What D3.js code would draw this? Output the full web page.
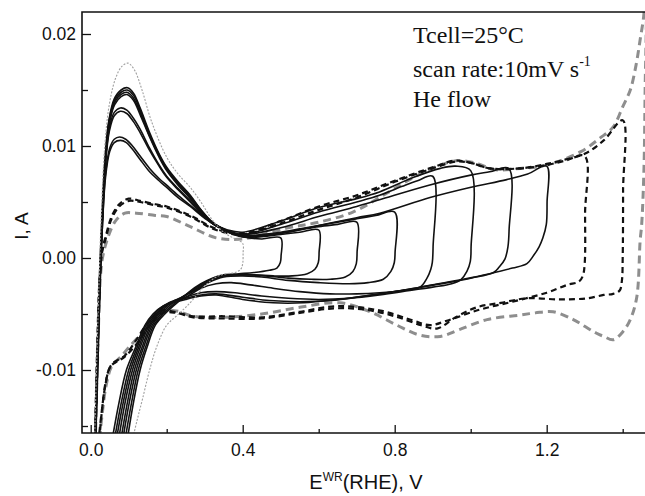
<!DOCTYPE html>
<html><head><meta charset="utf-8">
<script src="https://cdn.jsdelivr.net/npm/d3@7"></script>
<style>body{margin:0;background:#fff}svg{display:block}</style>
</head><body>
<script>
// ---- axis ticks ----
const xTicks=[0,0.4,0.8,1.2];
const xTickLabels=["0.0","0.4","0.8","1.2"];
const xMinorTicks=[0.2,0.6,1.0,1.4];
const yTicks=[-0.01,0,0.01,0.02];
const yTickLabels=["-0.01","0.00","0.01","0.02"];
const yMinorTicks=[-0.015,-0.005,0.005,0.015];
const xDomain=[-0.0229,1.4587];
const yDomain=[-0.015625,0.021964];

// ---- CV loops [E (V), I (A)], upper potential limits 0.4 ... 1.45 V ----
const cv04=[[0.010,-0.0165],[0.016,-0.0090],[0.022,-0.0020],[0.028,0.0040],[0.036,0.0095],[0.048,0.0135],[0.065,0.0160],[0.082,0.0171],[0.098,0.0174],[0.115,0.0168],[0.135,0.0150],[0.160,0.0122],[0.200,0.0090],[0.230,0.0075],[0.262,0.0063],[0.290,0.0050],[0.320,0.0034],[0.350,0.0023],[0.380,0.0017],[0.400,0.0013],[0.401,0.0004],[0.400,-0.0005],[0.395,-0.0010],[0.380,-0.0013],[0.358,-0.0014],[0.330,-0.0017],[0.300,-0.0025],[0.275,-0.0035],[0.250,-0.0044],[0.225,-0.0052],[0.200,-0.0060],[0.175,-0.0078],[0.155,-0.0100],[0.137,-0.0125],[0.122,-0.0145],[0.108,-0.0165]];
const cv05=[[0.011,-0.0165],[0.017,-0.0090],[0.023,-0.0020],[0.029,0.0030],[0.037,0.0085],[0.048,0.0123],[0.062,0.0142],[0.080,0.0150],[0.097,0.0152],[0.113,0.0147],[0.130,0.0134],[0.155,0.0112],[0.180,0.0093],[0.200,0.0081],[0.230,0.0068],[0.262,0.0056],[0.290,0.0043],[0.320,0.0032],[0.360,0.0024],[0.400,0.0019],[0.450,0.0017],[0.500,0.0018],[0.501,0.0002],[0.499,-0.0004],[0.490,-0.0009],[0.470,-0.0011],[0.430,-0.0013],[0.390,-0.0014],[0.350,-0.0015],[0.320,-0.0018],[0.290,-0.0023],[0.260,-0.0030],[0.227,-0.0040],[0.195,-0.0050],[0.170,-0.0060],[0.148,-0.0080],[0.130,-0.0100],[0.112,-0.0130],[0.095,-0.0165]];
const cv06=[[0.011,-0.0165],[0.017,-0.0090],[0.023,-0.0020],[0.029,0.0030],[0.037,0.0084],[0.048,0.0122],[0.062,0.0140],[0.080,0.0148],[0.096,0.0150],[0.113,0.0145],[0.130,0.0132],[0.155,0.0110],[0.180,0.0092],[0.200,0.0080],[0.230,0.0067],[0.262,0.0055],[0.290,0.0043],[0.320,0.0032],[0.360,0.0024],[0.400,0.0019],[0.450,0.0019],[0.500,0.0021],[0.550,0.0023],[0.600,0.0025],[0.601,0.0005],[0.599,-0.0004],[0.590,-0.0010],[0.570,-0.0014],[0.530,-0.0016],[0.480,-0.0016],[0.430,-0.0015],[0.380,-0.0015],[0.340,-0.0016],[0.310,-0.0020],[0.280,-0.0026],[0.250,-0.0033],[0.222,-0.0040],[0.190,-0.0050],[0.166,-0.0060],[0.144,-0.0080],[0.125,-0.0100],[0.107,-0.0130],[0.089,-0.0165]];
const cv07=[[0.012,-0.0165],[0.018,-0.0090],[0.024,-0.0020],[0.030,0.0030],[0.038,0.0084],[0.049,0.0121],[0.063,0.0139],[0.080,0.0146],[0.095,0.0148],[0.112,0.0143],[0.130,0.0130],[0.155,0.0109],[0.180,0.0091],[0.200,0.0079],[0.230,0.0066],[0.262,0.0054],[0.290,0.0042],[0.320,0.0031],[0.360,0.0024],[0.400,0.0020],[0.450,0.0020],[0.500,0.0022],[0.550,0.0025],[0.600,0.0028],[0.650,0.0030],[0.700,0.0032],[0.701,0.0005],[0.699,-0.0005],[0.690,-0.0012],[0.670,-0.0017],[0.630,-0.0019],[0.580,-0.0019],[0.520,-0.0018],[0.460,-0.0016],[0.400,-0.0015],[0.350,-0.0016],[0.310,-0.0021],[0.280,-0.0027],[0.245,-0.0034],[0.216,-0.0040],[0.185,-0.0050],[0.162,-0.0060],[0.139,-0.0080],[0.120,-0.0100],[0.101,-0.0130],[0.083,-0.0165]];
const cv08=[[0.012,-0.0165],[0.018,-0.0090],[0.024,-0.0020],[0.030,0.0030],[0.038,0.0083],[0.049,0.0120],[0.063,0.0137],[0.080,0.0144],[0.095,0.0146],[0.112,0.0141],[0.130,0.0128],[0.155,0.0108],[0.180,0.0090],[0.200,0.0078],[0.230,0.0065],[0.262,0.0053],[0.290,0.0041],[0.320,0.0031],[0.360,0.0024],[0.400,0.0020],[0.450,0.0021],[0.500,0.0023],[0.550,0.0026],[0.600,0.0029],[0.650,0.0032],[0.700,0.0035],[0.750,0.0038],[0.800,0.0041],[0.801,0.0005],[0.799,-0.0004],[0.790,-0.0012],[0.770,-0.0019],[0.730,-0.0022],[0.680,-0.0023],[0.600,-0.0022],[0.520,-0.0020],[0.450,-0.0017],[0.400,-0.0016],[0.350,-0.0017],[0.310,-0.0022],[0.280,-0.0028],[0.240,-0.0035],[0.211,-0.0040],[0.180,-0.0050],[0.158,-0.0060],[0.135,-0.0080],[0.115,-0.0100],[0.096,-0.0130],[0.078,-0.0165]];
const cv09=[[0.012,-0.0165],[0.018,-0.0090],[0.024,-0.0020],[0.030,0.0030],[0.038,0.0082],[0.049,0.0116],[0.062,0.0130],[0.078,0.0134],[0.095,0.0132],[0.112,0.0125],[0.130,0.0115],[0.155,0.0098],[0.180,0.0083],[0.200,0.0073],[0.230,0.0062],[0.262,0.0051],[0.290,0.0040],[0.320,0.0031],[0.360,0.0024],[0.400,0.0021],[0.500,0.0030],[0.600,0.0041],[0.700,0.0050],[0.760,0.0056],[0.820,0.0064],[0.860,0.0069],[0.900,0.0073],[0.901,0.0010],[0.899,-0.0004],[0.895,-0.0010],[0.885,-0.0018],[0.867,-0.0026],[0.820,-0.0029],[0.760,-0.0031],[0.700,-0.0032],[0.630,-0.0032],[0.550,-0.0030],[0.480,-0.0027],[0.420,-0.0024],[0.370,-0.0022],[0.330,-0.0023],[0.290,-0.0027],[0.250,-0.0035],[0.206,-0.0040],[0.176,-0.0050],[0.154,-0.0060],[0.130,-0.0080],[0.110,-0.0100],[0.090,-0.0130],[0.072,-0.0165]];
const cv10=[[0.012,-0.0165],[0.018,-0.0090],[0.024,-0.0020],[0.030,0.0030],[0.038,0.0080],[0.049,0.0113],[0.062,0.0127],[0.078,0.0131],[0.095,0.0129],[0.112,0.0122],[0.130,0.0112],[0.155,0.0096],[0.180,0.0082],[0.200,0.0072],[0.230,0.0061],[0.262,0.0050],[0.290,0.0040],[0.320,0.0031],[0.360,0.0025],[0.400,0.0023],[0.500,0.0033],[0.600,0.0045],[0.700,0.0053],[0.760,0.0059],[0.850,0.0072],[0.920,0.0080],[0.960,0.0082],[1.000,0.0078],[1.001,0.0010],[0.999,-0.0003],[0.990,-0.0012],[0.975,-0.0019],[0.950,-0.0023],[0.900,-0.0026],[0.840,-0.0029],[0.760,-0.0033],[0.680,-0.0036],[0.600,-0.0037],[0.520,-0.0036],[0.450,-0.0034],[0.380,-0.0031],[0.330,-0.0030],[0.290,-0.0031],[0.250,-0.0035],[0.200,-0.0042],[0.172,-0.0050],[0.150,-0.0060],[0.126,-0.0080],[0.105,-0.0100],[0.085,-0.0130],[0.066,-0.0165]];
const cv11=[[0.013,-0.0165],[0.019,-0.0090],[0.025,-0.0020],[0.031,0.0030],[0.039,0.0075],[0.050,0.0098],[0.062,0.0106],[0.076,0.0108],[0.092,0.0106],[0.110,0.0100],[0.130,0.0091],[0.155,0.0080],[0.180,0.0071],[0.200,0.0065],[0.230,0.0056],[0.262,0.0047],[0.306,0.0035],[0.350,0.0026],[0.400,0.0021],[0.500,0.0027],[0.600,0.0037],[0.700,0.0046],[0.760,0.0052],[0.890,0.0065],[1.000,0.0074],[1.050,0.0077],[1.100,0.0080],[1.101,0.0025],[1.098,0.0010],[1.090,-0.0001],[1.075,-0.0008],[1.060,-0.0013],[1.000,-0.0018],[0.940,-0.0022],[0.870,-0.0026],[0.800,-0.0030],[0.720,-0.0034],[0.630,-0.0038],[0.550,-0.0039],[0.470,-0.0038],[0.400,-0.0035],[0.330,-0.0032],[0.290,-0.0033],[0.250,-0.0036],[0.195,-0.0042],[0.168,-0.0050],[0.146,-0.0060],[0.122,-0.0080],[0.100,-0.0100],[0.080,-0.0130],[0.061,-0.0165]];
const cv12=[[0.013,-0.0165],[0.019,-0.0090],[0.025,-0.0020],[0.031,0.0030],[0.039,0.0072],[0.050,0.0095],[0.062,0.0103],[0.078,0.0105],[0.094,0.0103],[0.110,0.0097],[0.130,0.0088],[0.155,0.0077],[0.180,0.0069],[0.200,0.0063],[0.230,0.0054],[0.262,0.0046],[0.306,0.0034],[0.350,0.0025],[0.400,0.0019],[0.500,0.0022],[0.600,0.0029],[0.700,0.0036],[0.761,0.0040],[0.893,0.0054],[0.998,0.0063],[1.095,0.0070],[1.150,0.0075],[1.200,0.0082],[1.201,0.0050],[1.199,0.0030],[1.190,0.0018],[1.180,0.0010],[1.165,0.0002],[1.148,-0.0005],[1.110,-0.0009],[1.050,-0.0014],[0.980,-0.0019],[0.900,-0.0024],[0.820,-0.0029],[0.740,-0.0033],[0.650,-0.0037],[0.560,-0.0040],[0.480,-0.0040],[0.400,-0.0037],[0.330,-0.0033],[0.290,-0.0034],[0.250,-0.0037],[0.190,-0.0043],[0.164,-0.0050],[0.143,-0.0060],[0.118,-0.0080],[0.094,-0.0100],[0.074,-0.0130],[0.055,-0.0165]];
const cv13=[[0.012,-0.0165],[0.018,-0.0080],[0.024,-0.0020],[0.030,0.0005],[0.040,0.0018],[0.055,0.0035],[0.075,0.0046],[0.100,0.0051],[0.130,0.0050],[0.170,0.0047],[0.200,0.0045],[0.262,0.0037],[0.330,0.0025],[0.400,0.0021],[0.500,0.0031],[0.600,0.0043],[0.700,0.0054],[0.800,0.0068],[0.900,0.0080],[0.960,0.0086],[1.000,0.0085],[1.050,0.0080],[1.130,0.0080],[1.200,0.0083],[1.250,0.0087],[1.300,0.0091],[1.301,0.0040],[1.300,-0.0005],[1.295,-0.0016],[1.285,-0.0021],[1.254,-0.0024],[1.200,-0.0031],[1.110,-0.0039],[1.025,-0.0046],[0.937,-0.0056],[0.893,-0.0060],[0.850,-0.0056],[0.762,-0.0047],[0.650,-0.0043],[0.550,-0.0048],[0.450,-0.0053],[0.350,-0.0052],[0.270,-0.0052],[0.220,-0.0048],[0.185,-0.0047],[0.150,-0.0058],[0.120,-0.0073],[0.090,-0.0087],[0.055,-0.0095],[0.040,-0.0110],[0.030,-0.0135],[0.022,-0.0165]];
const cv14=[[0.011,-0.0165],[0.017,-0.0080],[0.023,-0.0020],[0.029,0.0005],[0.040,0.0020],[0.055,0.0037],[0.075,0.0048],[0.100,0.0053],[0.130,0.0051],[0.170,0.0048],[0.200,0.0046],[0.262,0.0038],[0.330,0.0026],[0.400,0.0022],[0.500,0.0033],[0.600,0.0046],[0.700,0.0056],[0.800,0.0069],[0.900,0.0081],[0.960,0.0087],[1.000,0.0085],[1.050,0.0080],[1.130,0.0080],[1.200,0.0084],[1.250,0.0088],[1.300,0.0093],[1.350,0.0105],[1.400,0.0123],[1.401,0.0060],[1.400,0.0000],[1.398,-0.0020],[1.392,-0.0029],[1.375,-0.0032],[1.350,-0.0033],[1.306,-0.0036],[1.235,-0.0037],[1.148,-0.0036],[1.080,-0.0040],[1.016,-0.0044],[0.960,-0.0053],[0.911,-0.0063],[0.870,-0.0060],[0.800,-0.0052],[0.720,-0.0046],[0.640,-0.0045],[0.550,-0.0049],[0.450,-0.0054],[0.350,-0.0054],[0.270,-0.0053],[0.225,-0.0049],[0.190,-0.0049],[0.155,-0.0060],[0.125,-0.0075],[0.090,-0.0088],[0.052,-0.0097],[0.038,-0.0115],[0.028,-0.0140],[0.020,-0.0165]];
const cv145=[[0.012,-0.0165],[0.019,-0.0080],[0.025,-0.0020],[0.031,0.0000],[0.045,0.0018],[0.065,0.0033],[0.090,0.0040],[0.120,0.0040],[0.170,0.0038],[0.200,0.0037],[0.262,0.0028],[0.330,0.0018],[0.400,0.0017],[0.520,0.0027],[0.600,0.0032],[0.690,0.0041],[0.780,0.0058],[0.850,0.0072],[0.920,0.0083],[0.970,0.0087],[1.020,0.0084],[1.060,0.0079],[1.130,0.0080],[1.200,0.0083],[1.290,0.0095],[1.340,0.0107],[1.375,0.0117],[1.400,0.0135],[1.420,0.0150],[1.435,0.0172],[1.446,0.0195],[1.455,0.0215],[1.460,0.0235],[1.462,0.0230],[1.459,0.0150],[1.456,0.0080],[1.450,0.0030],[1.446,0.0016],[1.437,-0.0035],[1.420,-0.0055],[1.400,-0.0066],[1.375,-0.0073],[1.350,-0.0070],[1.330,-0.0067],[1.300,-0.0061],[1.270,-0.0055],[1.217,-0.0048],[1.170,-0.0049],[1.130,-0.0051],[1.043,-0.0055],[0.970,-0.0064],[0.920,-0.0070],[0.867,-0.0069],[0.806,-0.0060],[0.735,-0.0048],[0.656,-0.0040],[0.550,-0.0044],[0.450,-0.0050],[0.350,-0.0053],[0.270,-0.0052],[0.220,-0.0047],[0.180,-0.0050],[0.140,-0.0065],[0.100,-0.0080],[0.080,-0.0088],[0.055,-0.0097],[0.040,-0.0115],[0.030,-0.0140],[0.022,-0.0165]];

const annotationLines=["Tcell=25°C","scan rate:10mV s","He flow"];

// ---- layout / styles ----
const W=645,H=496, L=82, T=12, R=645, B=433;
const styleGray={stroke:"#8e8e8e",width:3,dash:"8,5"};
const styleDash={stroke:"#111",width:2.2,dash:"6,4"};
const styleSolid={stroke:"#111",width:1.6,dash:null};
const styleThin={stroke:"#a0a0a0",width:1.1,dash:"2,1.5"};
const series=[
  {d:cv145,s:styleGray},{d:cv14,s:styleDash},{d:cv13,s:styleDash},
  {d:cv05,s:styleSolid},{d:cv06,s:styleSolid},{d:cv07,s:styleSolid},{d:cv08,s:styleSolid},
  {d:cv09,s:styleSolid},{d:cv10,s:styleSolid},{d:cv11,s:styleSolid},{d:cv12,s:styleSolid},
  {d:cv04,s:styleThin}
];

const svg=d3.select("body").append("svg").attr("width",W).attr("height",H);
const x=d3.scaleLinear().domain(xDomain).range([L,R]);
const y=d3.scaleLinear().domain(yDomain).range([B,T]);

svg.append("clipPath").attr("id","clip").append("rect").attr("x",L).attr("y",T).attr("width",R-L).attr("height",B-T);

const line=d3.line().x(d=>x(d[0])).y(d=>y(d[1])).curve(d3.curveCatmullRom.alpha(0.5));
const g=svg.append("g").attr("clip-path","url(#clip)");
series.forEach(o=>{
  g.append("path").attr("d",line(o.d)).attr("fill","none")
   .attr("stroke",o.s.stroke).attr("stroke-width",o.s.width)
   .attr("stroke-dasharray",o.s.dash).attr("stroke-linejoin","round");
});

// axes
const fontSans="'Liberation Sans', Arial, sans-serif";
const yAxis=d3.axisLeft(y).tickValues(yTicks).tickFormat((d,i)=>yTickLabels[i]).tickSizeInner(-9).tickSizeOuter(0).tickPadding(6);
const yMinor=d3.axisLeft(y).tickValues(yMinorTicks).tickFormat("").tickSizeInner(-6).tickSizeOuter(0);
const xAxis=d3.axisBottom(x).tickValues(xTicks).tickFormat((d,i)=>xTickLabels[i]).tickSizeInner(-8).tickSizeOuter(0).tickPadding(11);
const xMinor=d3.axisBottom(x).tickValues(xMinorTicks).tickFormat("").tickSizeInner(-4).tickSizeOuter(0);
[[yAxis,`translate(${L},0)`],[yMinor,`translate(${L},0)`],[xAxis,`translate(0,${B})`],[xMinor,`translate(0,${B})`]].forEach(([a,t])=>{
  const ga=svg.append("g").attr("transform",t).call(a);
  ga.select(".domain").remove();
  ga.selectAll("line").attr("stroke","#111").attr("stroke-width",1.3);
  ga.selectAll("text").attr("font-family",fontSans).attr("font-size",17.5).attr("fill","#111");
});
// frame
svg.append("path").attr("d",`M${R+1},${T}H${L}V${B}H${R+1}`).attr("fill","none").attr("stroke","#111").attr("stroke-width",1.6);

// axis titles
const xt=svg.append("text").attr("x",366).attr("y",489).attr("text-anchor","middle")
  .attr("font-family",fontSans).attr("font-size",20).attr("fill","#111");
xt.append("tspan").text("E");
xt.append("tspan").attr("font-size",12).attr("dy",-8).text("WR");
xt.append("tspan").attr("dy",8).text("(RHE), V");
svg.append("text").attr("transform","translate(28,226) rotate(-90)").attr("text-anchor","middle")
  .attr("font-family",fontSans).attr("font-size",19).attr("fill","#111").text("I, A");

// annotation
const fontSerif="'Liberation Serif','Times New Roman',serif";
const ann=svg.append("g").attr("font-family",fontSerif).attr("font-size",24).attr("fill","#111");
ann.append("text").attr("x",413).attr("y",43).text(annotationLines[0]);
const t2=ann.append("text").attr("x",413).attr("y",77);
t2.append("tspan").text(annotationLines[1]);
t2.append("tspan").attr("font-size",14).attr("dy",-11).text("-1");
ann.append("text").attr("x",413).attr("y",107).text(annotationLines[2]);
</script>
</body></html>
